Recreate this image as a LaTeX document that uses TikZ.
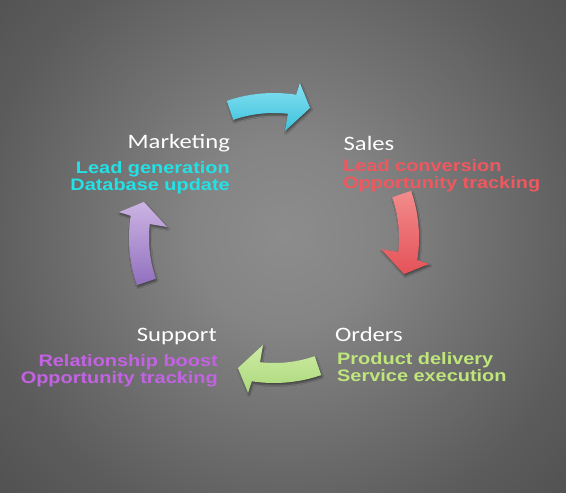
\documentclass[tikz,border=0pt]{standalone}
\usepackage{fontspec}
\newfontfamily\titlefont[FakeStretch=1.2]{Carlito}
\newfontfamily\subfont[FakeStretch=1.2]{Liberation Sans}
\usetikzlibrary{shadows.blur}
\definecolor{bgA}{gray}{0.55}
\definecolor{bgB}{gray}{0.52}
\definecolor{bgC}{gray}{0.45}
\definecolor{bgD}{gray}{0.36}
\definecolor{bgE}{gray}{0.30}
\definecolor{bgF}{gray}{0.27}
\definecolor{bgG}{gray}{0.17}
\definecolor{bgH}{gray}{0.15}
\pgfdeclareradialshading{bgshade}{\pgfpoint{0bp}{0bp}}{color(0bp)=(bgA); color(6bp)=(bgB); color(12bp)=(bgC); color(20bp)=(bgD); color(28bp)=(bgE); color(34bp)=(bgF); color(45bp)=(bgG); color(50bp)=(bgH)}
\definecolor{cyanA}{RGB}{135,224,242}
\definecolor{cyanB}{RGB}{60,194,220}
\definecolor{redA}{RGB}{242,140,140}
\definecolor{redB}{RGB}{228,82,88}
\definecolor{greenA}{RGB}{205,236,165}
\definecolor{greenB}{RGB}{172,216,122}
\definecolor{purpA}{RGB}{204,180,228}
\definecolor{purpB}{RGB}{145,112,190}
\definecolor{txtMk}{RGB}{34,226,230}
\definecolor{txtSa}{RGB}{240,88,96}
\definecolor{txtOr}{RGB}{190,230,122}
\definecolor{txtSu}{RGB}{196,98,228}
\tikzset{
  ttl/.style={font=\titlefont\fontsize{20.5}{24}\selectfont, text=white, inner sep=0pt},
  sub/.style={font=\subfont\bfseries\fontsize{16.6}{17}\selectfont, inner sep=0pt},
  cyc/.style={blur shadow={shadow xshift=1pt, shadow yshift=-2pt, shadow opacity=45, shadow blur steps=6}}
}
\begin{document}
\begin{tikzpicture}[x=1pt,y=-1pt]
\useasboundingbox (0,0) rectangle (566,493);
\begin{scope}
  \clip (0,0) rectangle (566,493);
  \shade[shading=bgshade] (-95,-145) rectangle (665,615);
\end{scope}
% cycle arrows
\begin{scope}[shift={(274,238)}]
\foreach \o/\ca/\cb in {0/cyanA/cyanB, 90/redA/redB, 180/greenA/greenB, 270/purpA/purpB}{
  \path[cyc, top color=\ca, bottom color=\cb]
    (\o-109:145) arc[start angle=\o-109, end angle=\o-81.2, radius=145]
    -- (\o-80.5:157) -- (\o-74.5:135) -- (\o-84.1:107.6) -- (\o-83.6:125)
    arc[start angle=\o-83.6, end angle=\o-109, radius=125] -- cycle;
}
\end{scope}
% Marketing
\node[ttl, anchor=base east] (mk) at (230,148.5) {Marketing};
\node[sub, text=txtMk, anchor=base east] (mk1) at (230,173) {Lead generation};
\node[sub, text=txtMk, anchor=base east] (mk2) at (230,190) {Database update};
% Sales
\node[ttl, anchor=base west] (sa) at (343.5,150) {Sales};
\node[sub, text=txtSa, anchor=base west] (sa1) at (343,171.7) {Lead conversion};
\node[sub, text=txtSa, anchor=base west] (sa2) at (343,188.3) {Opportunity tracking};
% Orders
\node[ttl, anchor=base west] (or) at (335,341.7) {Orders};
\node[sub, text=txtOr, anchor=base west] (or1) at (337,364.3) {Product delivery};
\node[sub, text=txtOr, anchor=base west] (or2) at (337,381.7) {Service execution};
% Support
\node[ttl, anchor=base east] (su) at (217,341.7) {Support};
\node[sub, text=txtSu, anchor=base east] (su1) at (218,366.7) {Relationship boost};
\node[sub, text=txtSu, anchor=base east] (su2) at (218,383.3) {Opportunity tracking};
\end{tikzpicture}
\end{document}
